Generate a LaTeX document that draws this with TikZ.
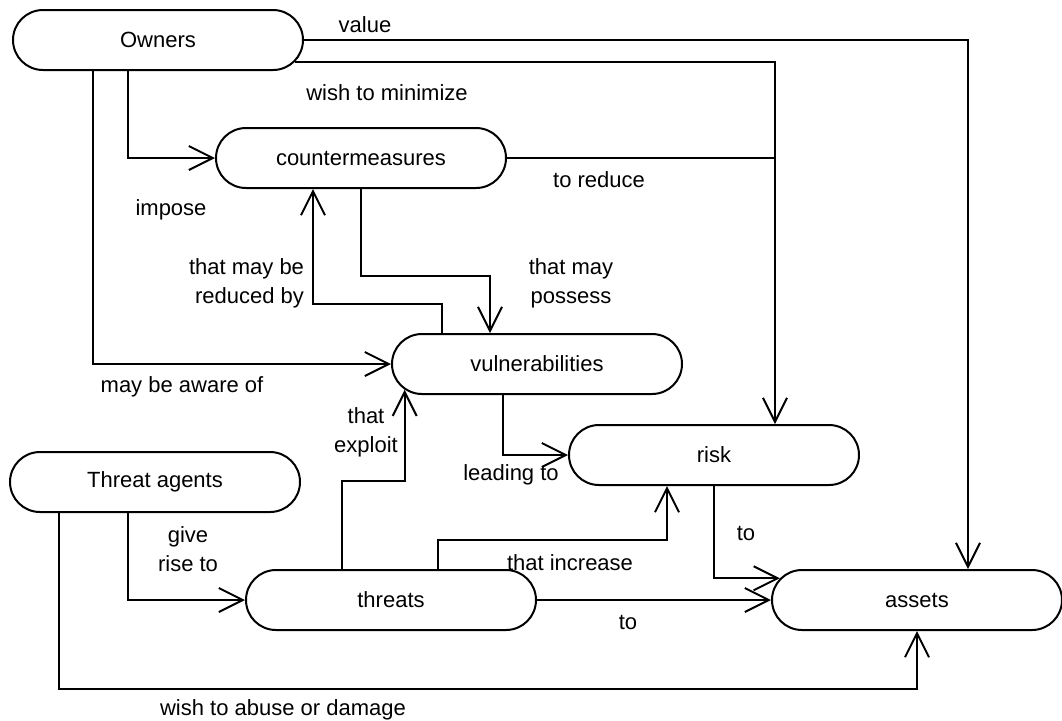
\documentclass[tikz,border=0pt]{standalone}
\usepackage{fontspec}
\setmainfont{Liberation Sans}
\usetikzlibrary{shapes.misc,arrows.meta}
\begin{document}
\begin{tikzpicture}[x=0.5pt,y=-0.5pt,line width=1pt,
  every node/.style={font=\fontsize{11}{14.5}\selectfont},
  blob/.style={draw,rounded rectangle,minimum width=145pt,minimum height=30pt,inner sep=0pt},
  lbl/.style={inner sep=0pt,align=center},
  arr/.style={-{Straight Barb[length=12pt,width=12pt]}}]
\useasboundingbox (0,0) rectangle (1062,720);
\node[blob] (owners) at (158,40) {Owners};
\node[blob] (cm) at (361,158) {countermeasures};
\node[blob] (vul) at (537,364) {vulnerabilities};
\node[blob] (risk) at (714,455) {risk};
\node[blob] (agents) at (155,482) {Threat agents};
\node[blob] (threats) at (391,600) {threats};
\node[blob] (assets) at (917,600) {assets};
\draw[arr] (owners.east) -| (968,0 |- assets.north);
\draw[arr] (owners.-9) -| (775,0 |- risk.north);
\draw[arr] (128,0 |- owners.south) |- (cm.west);
\draw[arr] (93,0 |- owners.south) |- (vul.west);
\draw (cm.east) -- (cm.east -| 775,0);
\draw[arr] (cm.south) -- ++(0,87) -| (490,0 |- vul.north);
\draw[arr] (442,0 |- vul.north) -- ++(0,-29) -| (313,0 |- cm.south);
\draw[arr] (503,0 |- vul.south) |- (risk.west);
\draw[arr] (342,0 |- threats.north) -- ++(0,-88) -| (vul.191);
\draw[arr] (438,0 |- threats.north) -- ++(0,-29) -| (667,0 |- risk.south);
\draw[arr] (risk.south) |- (assets.171);
\draw[arr] (threats.east) -- (assets.west);
\draw[arr] (59,0 |- agents.south) -- ++(0,176) -| (assets.south);
\draw[arr] (128,0 |- agents.south) |- (threats.west);
\node[lbl] (lvalue) at (365,25) {value};
\node[lbl] (lmin) at (387,93) {wish to minimize};
\node[lbl] (limpose) at (171,210) {impose};
\node[lbl] (lreduce) at (599,180) {to reduce};
\node[lbl,align=right,anchor=east] (lreducedby) at (305,283) {that may be\\reduced by};
\node[lbl] (lpossess) at (571,283) {that may\\possess};
\node[lbl] (laware) at (182,387) {may be aware of};
\node[lbl] (lexploit) at (366,432) {that\\exploit};
\node[lbl] (lleading) at (511,475) {leading to};
\node[lbl] (lrise) at (188,549) {give\\rise to};
\node[lbl] (lincrease) at (570,563) {that increase};
\node[lbl] (lto) at (746,533) {to};
\node[lbl] (lto2) at (628,622) {to};
\node[lbl] (labuse) at (283,710) {wish to abuse or damage};
\end{tikzpicture}
\end{document}
